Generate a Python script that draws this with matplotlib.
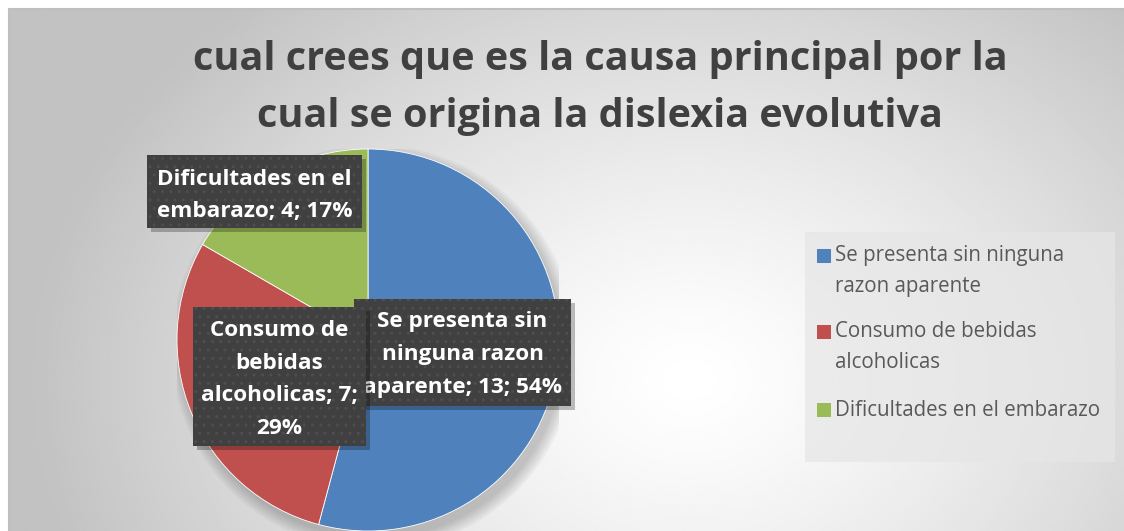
import matplotlib
matplotlib.use('Agg')
import matplotlib.pyplot as plt
from matplotlib.patches import Rectangle
import numpy as np

# datos
categorias = ['Se presenta sin ninguna razon aparente',
              'Consumo de bebidas alcoholicas',
              'Dificultades en el embarazo']
valores = [13, 7, 4]
porcentajes = [54, 29, 17]
colores = ['#4F81BD', '#C0504D', '#9BBB59']
leyenda = ['Se presenta sin ninguna\nrazon aparente',
           'Consumo de bebidas\nalcoholicas',
           'Dificultades en el embarazo']
etiquetas = ['Se presenta sin\nninguna razon\naparente; {}; {}%',
             'Consumo de\nbebidas\nalcoholicas; {};\n{}%',
             'Dificultades en el\nembarazo; {}; {}%']
titulo = 'cual crees que es la causa principal por la\ncual se origina la dislexia evolutiva'

W, H = 1124, 531
plt.rcParams['font.family'] = ['Open Sans', 'DejaVu Sans']

fig = plt.figure(figsize=(W / 100, H / 100), dpi=100)


def fx(px):
    return px / W


def fy(py):
    return 1 - py / H


# fondo con degradado radial
bg = fig.add_axes([fx(9), 0, 1 - fx(9), 1 - 9 / H])
gx, gy = np.meshgrid(np.linspace(9, W, 400), np.linspace(9, H, 200))
d = np.sqrt(((gx - 690) / 620) ** 2 + ((gy - 380) / 480) ** 2)
shade = np.clip(1.0 - 0.22 * d ** 1.3, 0.76, 1.0)
bg.imshow(shade, cmap='gray', vmin=0, vmax=1, aspect='auto',
          extent=[0, 1, 0, 1], interpolation='bilinear')
bg.axis('off')
fig.add_artist(plt.Line2D([fx(9), 1], [fy(9), fy(9)], color='#bfbfbf', lw=1.5))
fig.add_artist(plt.Line2D([fx(9), fx(9)], [fy(9), 0], color='#bfbfbf', lw=1.5))

# titulo
fig.text(fx(600), fy(88), titulo, ha='center', va='center', fontsize=28.5,
         fontweight='bold', color='#404040', linespacing=1.62)

# pastel
cx, cy, r = 368, 340, 191
ax = fig.add_axes([fx(cx - r), fy(cy + r), fx(2 * r), 2 * r / H])
for k in range(6):
    ax.add_patch(plt.Circle((0.03, -0.04), 1.0 + 0.012 * k, color='black',
                            alpha=0.035, zorder=0, linewidth=0))
ax.pie(valores, colors=colores, startangle=90, counterclock=False, radius=1,
       wedgeprops=dict(edgecolor='white', linewidth=0.6))
ax.set_xlim(-1, 1)
ax.set_ylim(-1, 1)
ax.set_aspect('equal')
ax.axis('off')


# etiquetas de datos (cajas oscuras)
def caja(x0, y0, x1, y1, texto, z, dy):
    sh = Rectangle((fx(x0 + 4), fy(y1 + 4)), fx(x1 - x0), (y1 - y0) / H,
                   transform=fig.transFigure, facecolor='black', alpha=0.25,
                   edgecolor='none', zorder=z)
    fondo = Rectangle((fx(x0), fy(y1)), fx(x1 - x0), (y1 - y0) / H,
                      transform=fig.transFigure, facecolor='#404040',
                      edgecolor='none', zorder=z + 0.1)
    puntos = Rectangle((fx(x0), fy(y1)), fx(x1 - x0), (y1 - y0) / H,
                       transform=fig.transFigure, facecolor='none',
                       edgecolor='#4e4e4e', hatch='..', linewidth=0,
                       zorder=z + 0.2)
    for p in (sh, fondo, puntos):
        fig.add_artist(p)
    t = fig.text(fx((x0 + x1) / 2), fy((y0 + y1) / 2 + dy), texto, ha='center',
                 va='center', fontsize=16.2, fontweight='bold', color='white',
                 linespacing=1.74, zorder=z + 0.3)
    return t


cajas = [(354, 299, 571, 406), (193, 307, 366, 446), (147, 155, 362, 228)]
zs = [5, 7, 5]
dys = [2, 3, 4]
for i in range(3):
    texto = etiquetas[i].format(valores[i], porcentajes[i])
    caja(*cajas[i], texto, zs[i], dys[i])

# leyenda
fig.add_artist(Rectangle((fx(805), fy(462)), fx(1115 - 805), (462 - 232) / H,
                         transform=fig.transFigure, facecolor='#e6e6e6',
                         alpha=0.7, edgecolor='none', zorder=3))
ys = [256, 332, 410]
for i in range(3):
    fig.add_artist(Rectangle((fx(817), fy(ys[i] + 7)), fx(14), 14 / H,
                             transform=fig.transFigure, facecolor=colores[i],
                             edgecolor='none', zorder=4))
    nl = leyenda[i].count('\n')
    fig.text(fx(835), fy(ys[i] + 15 * nl), leyenda[i], ha='left', va='center',
             fontsize=14.8, color='#595959', linespacing=1.58, zorder=4)

fig.savefig('out.png', dpi=100)
